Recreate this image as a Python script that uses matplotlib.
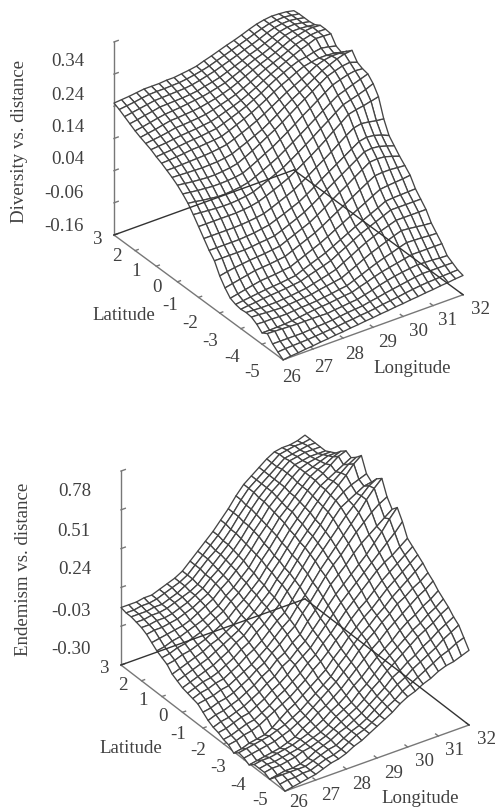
import numpy as np
import matplotlib
matplotlib.use("Agg")
import matplotlib.pyplot as plt
from mpl_toolkits.mplot3d import proj3d

W, H = 499, 812
plt.rcParams['font.family'] = ['Liberation Serif', 'DejaVu Serif']

longitudes = [26 + 0.25 * i for i in range(25)]
latitudes = [3 - 0.25 * i for i in range(33)]
lon_ticks = [26, 27, 28, 29, 30, 31, 32]
lat_ticks = [3, 2, 1, 0, -1, -2, -3, -4, -5]
div_z_ticks = [-0.16, -0.06, 0.04, 0.14, 0.24, 0.34, 0.44]
end_z_ticks = [-0.30, -0.03, 0.24, 0.51, 0.78, 1.05]
div_z_labels = ["-0.16", "-0.06", "0.04", "0.14", "0.24", "0.34"]
end_z_labels = ["-0.30", "-0.03", "0.24", "0.51", "0.78"]

# Diversity vs. distance, thousandths; rows lat 3 .. -5, columns lon 26 .. 32
diversity_milli = [
[250,252,254,257,260,260,260,262,262,265,268,272,280,287,295,303,310,318,327,335,340,343,342,340,335],
[242,245,248,252,255,256,256,257,258,261,265,270,276,284,292,300,308,316,325,333,340,343,344,341,337],
[232,236,240,244,248,249,250,251,252,255,260,266,272,280,288,296,305,313,322,332,340,344,345,342,337],
[222,226,231,235,240,241,242,243,245,248,254,259,265,274,283,292,302,310,320,330,340,345,346,342,337],
[212,216,221,226,230,232,234,237,240,243,248,254,260,270,280,290,300,308,318,329,340,345,345,343,340],
[204,208,212,217,222,223,225,227,230,235,240,247,255,265,276,287,297,306,316,327,338,344,350,352,350],
[197,200,203,207,212,213,215,217,220,226,233,240,248,259,270,282,294,304,314,325,336,343,349,351,350],
[190,192,194,197,200,202,204,207,210,217,225,233,242,253,265,278,290,301,312,323,333,341,350,349,348],
[180,182,184,187,190,192,194,197,200,208,217,226,236,248,260,274,287,298,309,318,322,328,332,328,322],
[172,173,175,177,180,181,183,185,188,197,207,217,228,240,253,267,280,291,303,313,318,322,322,320,315],
[162,162,163,164,165,166,168,171,175,184,194,204,215,228,242,256,270,282,294,307,320,328,332,332,330],
[152,151,150,149,148,149,150,153,158,168,178,189,200,214,229,245,260,273,287,301,315,325,335,342,345],
[140,137,134,132,130,130,132,135,140,151,163,176,190,203,218,234,250,265,280,295,310,318,325,328,320],
[125,122,119,117,115,115,116,118,122,133,145,158,170,185,200,216,233,248,264,280,295,303,310,314,312],
[108,105,101,98,95,95,97,100,105,115,126,138,150,165,180,196,212,228,244,260,275,283,292,300,308],
[85,83,81,79,78,78,80,83,88,98,108,119,130,145,160,176,192,209,225,242,258,265,272,280,290],
[60,60,60,60,60,60,62,65,70,79,89,99,110,124,139,154,170,187,205,222,240,246,250,256,262],
[35,35,35,35,35,36,38,41,45,54,64,74,85,99,114,130,145,161,178,195,210,215,212,208,205],
[10,10,10,10,10,12,14,18,22,31,40,50,60,74,89,105,120,135,150,165,180,185,182,175,165],
[-10,-10,-10,-10,-10,-8,-5,-3,0,9,19,29,40,54,69,85,100,115,130,145,160,163,160,153,145],
[-45,-40,-36,-33,-30,-28,-26,-23,-20,-10,0,10,20,34,49,65,80,94,110,125,140,142,140,133,125],
[-70,-65,-60,-55,-50,-48,-46,-43,-40,-30,-20,-10,0,13,27,41,55,69,83,97,110,112,112,110,108],
[-90,-85,-80,-75,-70,-68,-66,-63,-60,-50,-40,-30,-20,-8,5,17,30,43,55,68,80,83,85,87,90],
[-97,-94,-91,-88,-85,-83,-81,-78,-75,-65,-56,-47,-38,-26,-14,-2,10,21,32,43,55,57,58,59,60],
[-100,-97,-95,-92,-90,-88,-86,-83,-80,-72,-65,-58,-50,-37,-25,-12,0,10,20,30,40,40,40,40,40],
[-98,-99,-100,-100,-100,-98,-96,-93,-90,-84,-78,-72,-65,-52,-40,-27,-15,-5,4,12,20,20,20,20,20],
[-100,-101,-103,-104,-105,-103,-101,-99,-97,-92,-88,-84,-80,-69,-58,-46,-35,-26,-17,-8,0,-2,-5,-8,-10],
[-110,-111,-111,-112,-112,-110,-108,-107,-105,-102,-99,-95,-92,-83,-74,-64,-55,-47,-40,-32,-25,-26,-27,-29,-30],
[-125,-125,-124,-123,-121,-118,-115,-112,-110,-108,-105,-102,-100,-92,-85,-77,-70,-65,-60,-55,-50,-50,-50,-50,-50],
[-115,-116,-117,-118,-119,-119,-119,-119,-120,-117,-115,-112,-110,-104,-98,-91,-85,-80,-76,-73,-70,-71,-72,-74,-75],
[-135,-135,-135,-135,-135,-133,-131,-130,-128,-125,-122,-120,-118,-113,-109,-104,-100,-96,-92,-88,-85,-85,-85,-85,-85],
[-148,-146,-145,-144,-143,-141,-139,-137,-135,-132,-130,-127,-125,-122,-118,-115,-112,-108,-105,-102,-100,-99,-97,-96,-95],
[-160,-157,-155,-152,-150,-147,-145,-142,-140,-137,-135,-132,-130,-127,-125,-122,-120,-117,-115,-112,-110,-107,-105,-102,-100],
]

# Endemism vs. distance, hundredths; rows lat 3 .. -5, columns lon 26 .. 32
endemism_centi = [
[10,10,10,11,11,13,15,17,20,25,30,35,40,46,52,59,65,69,73,77,80,81,81,82,84],
[9,9,10,10,11,13,15,17,20,25,30,35,40,46,52,59,65,69,73,77,81,82,83,83,84],
[9,9,9,10,10,12,14,17,20,25,30,34,39,45,52,58,65,69,73,77,81,82,83,84,84],
[8,8,9,9,10,12,14,16,19,24,29,34,39,45,51,58,64,69,73,78,82,83,84,84,84],
[7,7,8,8,9,11,13,16,19,24,28,33,38,44,51,57,64,69,73,78,82,83,84,84,84],
[5,6,6,7,8,10,12,15,18,23,27,32,37,43,50,56,63,68,73,78,82,84,85,86,86],
[2,3,4,5,6,8,11,14,17,22,26,31,36,42,49,55,62,67,72,77,82,84,86,88,88],
[-1,0,2,3,5,7,9,12,15,20,24,29,34,41,47,54,61,66,72,77,82,85,87,90,92],
[-3,-2,0,1,3,5,8,11,14,19,23,28,33,40,46,53,60,66,71,77,82,85,89,93,95],
[-5,-4,-2,-1,1,3,6,9,12,17,21,26,31,38,44,51,58,64,70,76,81,84,87,90,93],
[-9,-7,-5,-3,-1,2,4,7,10,15,20,25,30,37,43,50,57,63,69,75,81,85,89,93,96],
[-11,-9,-7,-5,-3,0,3,6,9,14,18,23,28,35,41,48,55,61,67,74,80,85,90,96,100],
[-13,-11,-9,-7,-5,-2,1,5,8,13,17,22,27,34,40,47,54,60,66,73,79,83,86,88,90],
[-14,-12,-10,-9,-7,-4,-1,3,6,11,15,20,25,32,38,45,52,58,64,71,77,80,83,86,87],
[-15,-13,-12,-10,-9,-6,-3,1,4,8,13,18,22,29,36,43,50,56,62,68,74,79,84,89,92],
[-16,-15,-14,-12,-11,-8,-5,-2,2,6,11,16,20,27,33,40,47,53,59,65,71,77,84,90,95],
[-19,-18,-16,-15,-13,-10,-7,-3,0,5,9,14,18,25,31,38,45,51,56,62,68,73,78,82,85],
[-22,-20,-19,-17,-15,-12,-9,-5,-2,3,6,11,15,22,28,35,42,47,52,58,63,67,71,75,79],
[-24,-22,-21,-19,-17,-14,-11,-7,-4,1,4,9,13,19,25,32,38,43,48,53,58,64,70,77,83],
[-25,-24,-22,-20,-19,-16,-13,-9,-6,-2,3,7,11,17,23,29,35,40,45,50,55,60,65,70,76],
[-27,-26,-24,-22,-21,-18,-15,-11,-8,-4,0,5,9,15,20,26,32,37,42,47,52,56,59,63,67],
[-28,-27,-25,-24,-22,-19,-16,-13,-10,-6,-2,3,7,12,18,23,29,34,38,43,48,52,56,60,64],
[-31,-30,-28,-27,-26,-23,-19,-15,-12,-8,-4,0,4,10,15,21,26,31,35,40,45,49,53,57,61],
[-28,-27,-26,-25,-24,-22,-20,-17,-14,-10,-6,-2,2,8,13,19,24,28,33,37,42,46,50,54,58],
[-29,-28,-27,-26,-25,-23,-21,-18,-15,-11,-7,-3,1,6,11,17,22,26,31,35,40,43,47,50,54],
[-31,-30,-29,-28,-27,-25,-23,-19,-16,-12,-9,-5,-1,4,9,14,19,23,28,32,36,40,44,47,51],
[-28,-27,-27,-26,-25,-24,-22,-20,-17,-14,-10,-7,-3,2,6,11,16,20,24,29,33,36,40,43,47],
[-28,-27,-27,-26,-25,-24,-22,-20,-18,-15,-11,-8,-5,0,4,9,14,18,22,26,30,33,37,40,44],
[-28,-27,-27,-26,-25,-23,-22,-20,-18,-15,-12,-9,-6,-2,3,7,12,16,20,24,28,31,34,38,41],
[-30,-29,-28,-28,-27,-25,-22,-20,-18,-15,-13,-10,-7,-3,1,5,10,13,17,20,24,27,31,34,37],
[-26,-26,-26,-26,-26,-24,-22,-20,-19,-16,-13,-11,-8,-4,0,4,8,11,15,18,21,24,28,31,34],
[-28,-27,-27,-26,-26,-24,-22,-21,-19,-16,-13,-11,-8,-5,-1,2,6,9,12,15,18,21,23,26,28],
[-30,-29,-28,-27,-26,-24,-22,-21,-19,-16,-14,-11,-8,-5,-2,2,5,7,10,12,15,17,18,20,22],
]

fig = plt.figure(figsize=(W / 100, H / 100), dpi=100, facecolor='white')
TXT = '#404040'


def to_px(ax, x, y, z):
    xp, yp, _ = proj3d.proj_transform(x, y, z, ax.get_proj())
    dx, dy = ax.transData.transform((xp, yp))
    return np.array([dx, H - dy])


def put(x, y, s, **kw):
    kw.setdefault('ha', 'center')
    kw.setdefault('va', 'center')
    fig.text(x / W, 1 - y / H, s, fontsize=13.6, color=TXT, **kw)


def panel(z_values, z_ticks, elev, azim, box, corner_a, corner_c):
    ax = fig.add_axes([0, 0, 400 / W, 400 / H], projection='3d')
    ax.set_proj_type('ortho')
    ax.view_init(elev=elev, azim=azim, roll=0)
    ax.set_box_aspect(box)
    ax.set_xlim(26, 32, view_margin=0)
    ax.set_ylim(-5, 3, view_margin=0)
    ax.set_zlim(z_ticks[0], z_ticks[-1], view_margin=0)
    ax.set_axis_off()
    ax.patch.set_alpha(0)
    ax.computed_zorder = False
    z0 = z_ticks[0]

    # fit the axes box so the floor corners land where they should
    ax.apply_aspect()
    a = to_px(ax, 26, 3, z0)
    c = to_px(ax, 32, -5, z0)
    S = 400 * np.linalg.norm(np.subtract(corner_c, corner_a)) / np.linalg.norm(c - a)
    ax.set_position([0, 0, S / W, S / H])
    ax.apply_aspect()
    a = to_px(ax, 26, 3, z0)
    off = np.subtract(corner_a, a)
    ax.set_position([off[0] / W, -off[1] / H, S / W, S / H])
    ax.apply_aspect()

    X, Y = np.meshgrid(longitudes, latitudes)
    Z = np.array(z_values, dtype=float)
    ax.plot_surface(X, Y, Z, rstride=1, cstride=1, color='white', edgecolor='#454545',
                    linewidth=0.95, shade=False, antialiased=True, zorder=2)

    grey = dict(color='#777777', lw=1.0, zorder=1, clip_on=False)
    dark = dict(color='#333333', lw=1.0, zorder=3, clip_on=False)
    # floor, back edges over the surface, front edges beside it
    ax.plot([26, 32], [3, 3], [z0, z0], **dark)
    ax.plot([32, 32], [3, -5], [z0, z0], **dark)
    ax.plot([26, 26], [3, -5], [z0, z0], **grey)
    ax.plot([26, 32], [-5, -5], [z0, z0], **grey)
    ax.plot([26, 26], [3, 3], [z0, z_ticks[-1]], **grey)
    for lat in lat_ticks:
        ax.plot([26, 26.1], [lat, lat], [z0, z0], **grey)
    for lon in lon_ticks:
        ax.plot([lon, lon], [-5, -4.87], [z0, z0], **grey)
    for zt in z_ticks:
        ax.plot([26, 26.14], [3, 3], [zt, zt], **grey)
    return ax


panel(np.array(diversity_milli) / 1000, div_z_ticks, 31.1, 235.0, (219.6, 295, 225.5),
      (114, 236), (463, 296))
panel(np.array(endemism_centi) / 100, end_z_ticks, 31.7, 235.65, (222.9, 290.7, 228),
      (121, 666), (469, 726))

# panel 1 texts
for s, y in zip(div_z_labels, [227, 194, 160, 127, 95, 62]):
    put(84, y, s, ha='right')
for s, p in zip(lat_ticks, [(98, 240), (117, 257), (136, 272), (157, 288), (170, 306),
                            (190, 323), (210, 341), (232, 357), (252, 373)]):
    put(p[0], p[1], str(s))
for s, p in zip(lon_ticks, [(292, 378), (324, 368), (355, 355), (388, 343), (418, 332),
                            (448, 321), (481, 310)]):
    put(p[0], p[1], str(s))
put(124, 316, "Latitude")
put(412, 369, "Longitude")
put(20, 142, "Diversity vs. distance", rotation=90)

# panel 2 texts
for s, y in zip(end_z_labels, [650, 611, 570, 532, 492]):
    put(91, y, s, ha='right')
for s, p in zip(lat_ticks, [(105, 669), (123, 686), (143, 701), (163, 717), (178, 735),
                            (198, 751), (218, 768), (238, 786), (260, 801)]):
    put(p[0], p[1], str(s))
for s, p in zip(lon_ticks, [(299, 803), (331, 796), (362, 785), (394, 774), (425, 762),
                            (455, 751), (487, 740)]):
    put(p[0], p[1], str(s))
put(131, 749, "Latitude")
put(420, 799, "Longitude")
put(24, 569, "Endemism vs. distance", rotation=90)

fig.savefig('out.png', dpi=100)
